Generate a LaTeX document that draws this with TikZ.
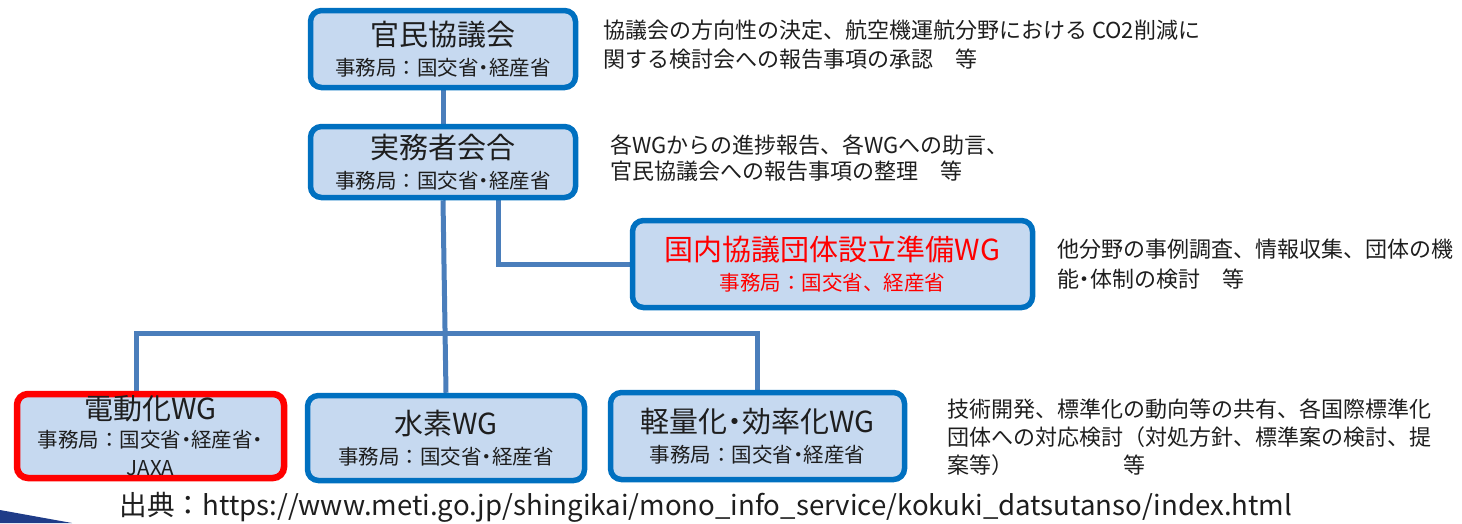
\documentclass[tikz,border=0pt]{standalone}
\usepackage{fontspec}
\setmainfont{Noto Sans CJK JP}
\newfontfamily\paltfont{Noto Sans CJK JP}[RawFeature={+palt}]
\usetikzlibrary{backgrounds}
\definecolor{boxfill}{HTML}{C6D9F0}
\definecolor{boxline}{HTML}{0070C0}
\definecolor{conn}{HTML}{4A7EBB}
\definecolor{txt}{HTML}{1E1E1E}
\definecolor{wedge}{HTML}{1F3C88}
\newcommand{\ttlfont}{\paltfont\fontsize{29}{30}\selectfont}
\newcommand{\subfont}{\fontsize{20.5}{30}\selectfont}
\newcommand{\ndot}{{\paltfont ・}}
\tikzset{
  orgbox/.style={draw=boxline, fill=boxfill, line width=5.5pt, rounded corners=11pt,
    align=center, text=txt, inner sep=0pt, font=\subfont},
  redbox/.style={orgbox, draw=red, line width=6.5pt},
  desc/.style={anchor=north west, align=left, text=txt, inner sep=0pt},
  connector/.style={draw=conn, line width=5pt}
}
\begin{document}
\begin{tikzpicture}[x=1pt, y=-1pt]
\useasboundingbox (0,0) rectangle (1462,523);
% boxes
\node[orgbox, minimum width=265pt, minimum height=77pt] (kanmin) at (443,49)
  {{\ttlfont 官民協議会}\\ 事務局：国交省\ndot 経産省};
\node[orgbox, minimum width=265pt, minimum height=71pt] (jitsumu) at (443,162)
  {{\ttlfont 実務者会合}\\ 事務局：国交省\ndot 経産省};
\node[orgbox, minimum width=400pt, minimum height=87pt, text=red] (kokunai) at (832.5,264)
  {{\ttlfont 国内協議団体設立準備WG}\\ 事務局：国交省、経産省};
\node[redbox, minimum width=267pt, minimum height=84pt, font=\fontsize{20.5}{28}\selectfont] (dendo) at (150.5,436)
  {{\ttlfont 電動化WG}\\ 事務局：国交省\ndot 経産省\ndot\\ JAXA};
\node[orgbox, minimum width=277pt, minimum height=85pt] (suiso) at (446,438)
  {{\ttlfont 水素WG}\\ 事務局：国交省\ndot 経産省};
\node[orgbox, minimum width=294pt, minimum height=87pt] (keiryo) at (757.5,436)
  {{\ttlfont 軽量化・効率化WG}\\ 事務局：国交省\ndot 経産省};
% connectors
\begin{pgfonlayer}{background}
\coordinate (barL) at (136,333);
\coordinate (barR) at (757,333);
\draw[connector] (kanmin.south) -- (jitsumu.north);
\draw[connector] (jitsumu.south) -- (suiso.north);
\draw[connector] ([xshift=55pt]jitsumu.south) |- (kokunai.west);
\draw[connector] (barL |- dendo.north) -- (barL) -- (barR) -- (barR |- keiryo.north);
\end{pgfonlayer}
% descriptions
\node[desc, font=\fontsize{22}{29}\selectfont] (d1) at (603,20) {協議会の方向性の決定、航空機運航分野における CO2削減に\\関する検討会への報告事項の承認　等};
\node[desc, font=\fontsize{22}{26}\selectfont] (d2) at (610,135) {各WGからの進捗報告、各WGへの助言、\\官民協議会への報告事項の整理　等};
\node[desc, font=\fontsize{22}{30}\selectfont] (d3) at (1057,239) {他分野の事例調査、情報収集、団体の機\\能\ndot 体制の検討　等};
\node[desc, font=\fontsize{22}{28}\selectfont] (d4) at (947,399) {技術開発、標準化の動向等の共有、各国際標準化\\団体への対応検討（対処方針、標準案の検討、提\\案等）　　　　　等};
\node[anchor=center, text=txt, inner sep=0pt, font=\fontsize{27.6}{28}\selectfont] (src) at (706,507)
  {出典：https://www.meti.go.jp/shingikai/mono\_info\_service/kokuki\_datsutanso/index.html};
\fill[wedge] (0,510) -- (72,523) -- (0,523) -- cycle;
\end{tikzpicture}
\end{document}
